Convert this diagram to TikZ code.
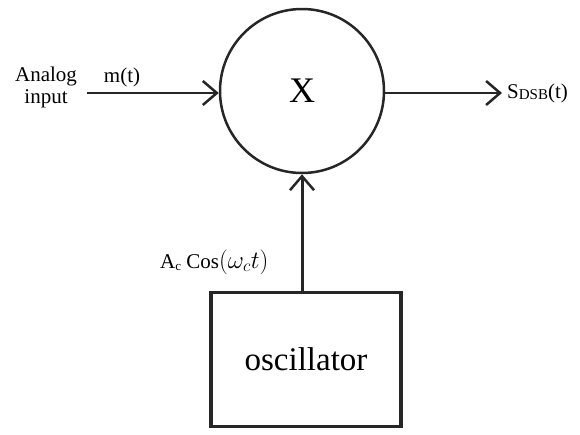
\documentclass[tikz,border=0pt]{standalone}
\usepackage{fontspec}
\setmainfont{Liberation Serif}
\usetikzlibrary{arrows.meta}
\begin{document}
\begin{tikzpicture}[x=1pt,y=-1pt,
  line/.style={line width=2.5pt,draw=black!85},
  arr/.style={line, -{Straight Barb[length=14pt,width=24pt,line width=2.5pt]}},
  lbl/.style={font=\fontsize{21}{24}\selectfont, inner sep=0pt}]
\useasboundingbox (0,0) rectangle (580,434);
\node[line, circle, minimum size=164pt, inner sep=0pt, font=\fontsize{36}{40}\selectfont] (mult) at (302,91) {X};
\node[draw=black!85, line width=3.5pt, minimum width=190pt, minimum height=134pt, inner sep=0pt, font=\fontsize{33}{38}\selectfont] (osc) at (306,359.5) {oscillator};
\coordinate (in) at (87,93);
\coordinate (out) at (502,93);
\draw[arr] (in) -- (in -| mult.west);
\draw[arr] (out -| mult.east) -- (out);
\draw[arr, line width=3pt] (mult.south |- osc.north) -- (mult.south);
\node[lbl, align=center] (ain) at (46,87) {Analog\\[-2pt]input};
\node[lbl] (mt) at (122,77) {m(t)};
\node[lbl, anchor=west] (sdsb) at (507,93) {S{\fontsize{15}{15}\selectfont\raisebox{-1pt}{DSB}}(t)};
\node[lbl, anchor=west] (ac) at (160,262) {A{\fontsize{13}{13}\selectfont\raisebox{-2pt}{c}} Cos{\fontsize{24}{26}\selectfont$(\omega_c t)$}};
\end{tikzpicture}
\end{document}
